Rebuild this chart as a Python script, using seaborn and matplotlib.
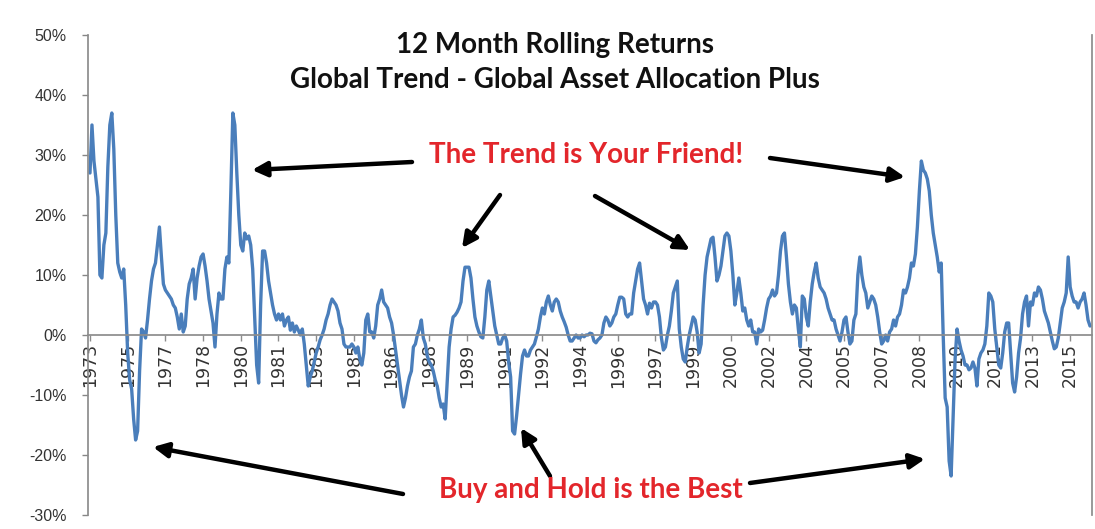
import numpy as np
import pandas as pd
import matplotlib
matplotlib.use("Agg")
import matplotlib.pyplot as plt
import seaborn as sns

# ---------------- data ----------------
start_month = "1973-12"
returns_pct = [
    27, 35, 29, 26, 23, 10, 9.5, 15, 17, 28, 35, 37, 31, 20, 12, 10.5, 9.5, 11, 5, -3,
    -7.5, -9, -14, -17.5, -16, -6, 1, 0.5, -0.5, 2.5, 6, 9, 11, 12, 15, 18, 13, 8.5, 7.5, 7,
    6.5, 6, 5, 4.5, 3, 1, 3.5, 0.5, 1.5, 6, 8.5, 9.5, 11, 6, 9.5, 11.5, 13, 13.5, 11.5, 9,
    6, 4, 2, -2, 3.5, 7, 6, 6, 11, 13, 12, 24, 37, 35, 27, 20, 15, 14, 17, 16,
    16.5, 15, 11, 3, -5, -8, 5, 14, 14, 12, 9, 7, 5, 3.5, 2.5, 3.5, 2.5, 3.5, 1.5, 2.5,
    3, 0.8, 2, 0.5, 1.5, 0.8, 0, 1, -1.5, -5, -8.5, -7, -6, -4.5, -3, -2, -0.8, 0, 1, 2.5,
    3.5, 5, 6, 5.5, 5, 4, 2, 1, -1.5, -2, -2, -2, -1.5, -2, -3, -2, -4, -5, -3, 2.5,
    3.5, 0.5, 0.5, -0.5, 1.5, 5, 6, 7.5, 5.5, 5, 4.5, 3, 2, 0, -2.5, -5, -7.5, -10, -12, -10.5,
    -8.5, -7, -6, -2, -1.5, 0, 1, 2.5, -0.5, -1.5, -3.5, -4.5, -5, -6, -7.5, -8.5, -10.5, -12, -11.5, -14,
    -8, -2, 1, 3, 3.3, 3.8, 4.5, 5.5, 9, 11.3, 11.3, 11.3, 9.5, 6, 3, 1.5, 0.5, -0.3, -0.5, 3,
    7.5, 9, 6.5, 4, 1.5, 0, -1.5, -1.5, -0.5, 0, -1, -4.5, -7, -16, -16.5, -13.5, -10, -6.5, -3.5, -2.5,
    -3.5, -3.5, -2.5, -2, -1.5, -0.3, 1, 3, 4.5, 3.5, 5.5, 6.5, 5, 4, 5.5, 6, 5.5, 4, 3, 2.2,
    1.3, 0, -1, -1, -0.5, 0, -0.5, -0.5, 0, -0.3, 0, 0, 0.3, 0.2, -1, -1.3, -0.8, -0.5, 0, 2,
    3, 2.5, 1.5, 2, 3, 3.5, 5, 6.3, 6.3, 6, 3.5, 3, 3.5, 3.5, 7, 9, 11, 12, 9, 6,
    5, 3.5, 5.3, 4.5, 5.5, 5.5, 5, 3, -0.5, -2.5, -2, 0, 1.5, 4, 7, 8, 9, 1, -2, -4,
    -4.5, -2, 0, 1.5, 3, 2.5, 0.5, -3, -1.5, 5, 10, 13, 14.5, 16, 16.3, 13, 9, 10, 11.5, 14,
    16.5, 17, 16.5, 14, 10, 5, 7, 9.5, 7, 4, 4.5, 2.5, 1.5, 2.5, 0.5, 0.5, -1.5, 1, 0.5, 0.8,
    2.5, 4.5, 6, 6.5, 7.5, 6.5, 7, 10, 14, 16.5, 17, 13, 8.5, 5.5, 3.5, 5, 4.5, 1, -2, 6.5,
    6, 3, 1.5, 5.5, 8.5, 10.5, 12, 9.5, 8, 7.5, 7, 6, 4.5, 3.5, 2.5, 2.5, 1, 0, -1, 0.5,
    2.5, 3, 0.5, -1.5, -1, 2.5, 3.5, 10, 13, 10, 8, 7, 4.5, 5.5, 6.5, 6, 5, 3, 0.5, -1.5,
    -1, 0, -1, 0.5, 1, 2.5, 1.5, 3, 3.5, 5, 7.5, 7, 8, 9.5, 12, 11.5, 13.5, 18, 24, 29,
    27.5, 27, 26, 24, 20, 17, 15, 13, 10.5, 12, 0, -10.5, -12, -21, -23.5, -14, -4, 1, -1, -2.5,
    -3.5, -5, -5, -5.8, -5.5, -4.5, -5.5, -8.5, -4, -3, -2.5, -1.5, 1.5, 7, 6.5, 5.5, 1, -2, -5, -5.5,
    -3, 0.5, 2, 2, -3, -8, -9.5, -7, -3, -0.5, 3.5, 5.5, 6.5, 1.5, 5.5, 5, 7, 6.5, 8, 7.5,
    6, 4, 3, 2, 0.5, -1, -2.3, -2, -0.5, 2, 4.5, 5.5, 7, 13, 8, 6.5, 5.5, 5.5, 4.5, 5.5,
    6, 7, 5, 2.5, 1.5,
]
tick_labels = ["1973", "1975", "1977", "1978", "1980", "1981", "1983", "1985", "1986",
               "1988", "1989", "1991", "1992", "1994", "1996", "1997", "1999", "2000",
               "2002", "2004", "2005", "2007", "2008", "2010", "2011", "2013", "2015"]
label_every = 19  # months between category labels
y_ticks = [50, 40, 30, 20, 10, 0, -10, -20, -30]

title_lines = ["12 Month Rolling Returns", "Global Trend - Global Asset Allocation Plus"]
top_note = "The Trend is Your Friend!"
bottom_note = "Buy and Hold is the Best"

# ---------------- figure ----------------
sns.set_theme(style="white")
plt.rcParams["font.family"] = ["Lato", "DejaVu Sans"]

W, H = 1095, 529
fig = plt.figure(figsize=(W / 100, H / 100), dpi=100)
ax = fig.add_axes([88 / W, 1 - 515 / H, (1092 - 88) / W, (515 - 35) / H])

df = pd.DataFrame({
    "month": pd.period_range(start_month, periods=len(returns_pct), freq="M").astype(str),
    "idx": np.arange(len(returns_pct)),
    "ret": returns_pct,
})
sns.lineplot(data=df, x="idx", y="ret", ax=ax, color="#4a7ebb", linewidth=2.4)

ax.set_xlim(-1, len(returns_pct))
ax.set_ylim(-30, 50)
ax.set_xlabel("")
ax.set_ylabel("")

# y axis
ax.set_yticks(y_ticks)
ax.set_yticklabels([f"{v}%" for v in y_ticks], fontsize=11.5, color="#333333",
                   family=["Liberation Sans", "DejaVu Sans"])
ax.tick_params(axis="y", direction="out", length=4.5, width=1, color="#868686", pad=11, left=True)

# x axis crossing at zero
ax.spines["bottom"].set_position(("data", 0))
ax.spines["bottom"].set_color("#8c8c8c")
ax.spines["left"].set_color("#8c8c8c")
ax.spines["right"].set_color("#8c8c8c")
ax.spines["top"].set_visible(False)
xt = np.arange(len(tick_labels)) * label_every
ax.set_xticks(xt)
ax.set_xticklabels(tick_labels, rotation=90, fontsize=12.5, color="#333333",
                   family=["DejaVu Sans"])
ax.tick_params(axis="x", direction="out", length=4, width=1, color="#8c8c8c", pad=2, bottom=True)
ax.grid(False)

# titles
def fy(y):
    return H - y

fig.text(555 / W, fy(45) / H, title_lines[0], ha="center", va="center",
         fontsize=20, fontweight="bold", color="#111111")
fig.text(555 / W, fy(80) / H, title_lines[1], ha="center", va="center",
         fontsize=20, fontweight="bold", color="#111111")
fig.text(586 / W, fy(155) / H, top_note, ha="center", va="center",
         fontsize=20, fontweight="bold", color="#e3262b")
fig.text(591 / W, fy(490) / H, bottom_note, ha="center", va="center",
         fontsize=20, fontweight="bold", color="#e3262b")

arrows = [
    ((412, 162), (252, 170)),
    ((500, 195), (462, 248)),
    ((595, 196), (690, 250)),
    ((770, 158), (905, 177)),
    ((403, 494), (153, 447)),
    ((550, 476), (521, 428)),
    ((750, 483), (925, 459)),
]
for (tx, ty), (hx, hy) in arrows:
    ax.annotate("", xy=(hx, fy(hy)), xytext=(tx, fy(ty)),
                xycoords="figure pixels", textcoords="figure pixels",
                arrowprops=dict(arrowstyle="-|>", lw=3.2, color="black",
                                mutation_scale=22, shrinkA=0, shrinkB=0))

fig.savefig("out.png", dpi=100)
